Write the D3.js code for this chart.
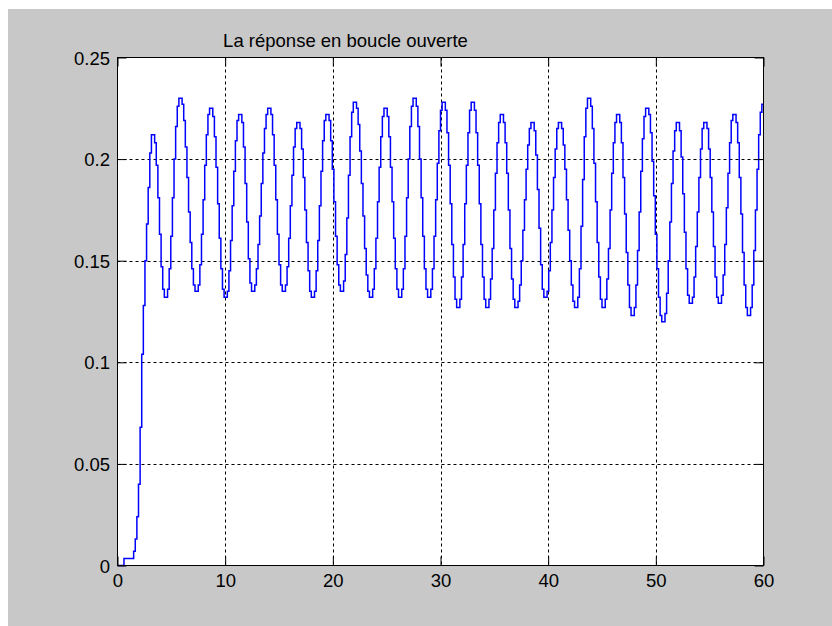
<!DOCTYPE html>
<html>
<head>
<meta charset="utf-8">
<script src="https://cdn.jsdelivr.net/npm/d3@7"></script>
<style>
  html, body { margin: 0; padding: 0; background: #ffffff; }
  svg { display: block; }
  text { font-family: "Liberation Sans", Arial, Helvetica, sans-serif; fill: #000; }
</style>
</head>
<body>
<svg id="fig" width="832" height="626"></svg>
<script>
// Open-loop response, sampled every sampleTime seconds and drawn as a zero-order hold.
const sampleTime = 0.15;
const response = [
  0, 0, 0, 0, 0.0035, 0.0035, 0.0035, 0.0035, 0.0035, 0.0035,
  0.007, 0.013, 0.024, 0.040, 0.068, 0.104, 0.128, 0.150, 0.168, 0.186,
  0.203, 0.212, 0.212, 0.208, 0.197, 0.181, 0.163, 0.147, 0.136, 0.132,
  0.132, 0.136, 0.146, 0.162, 0.181, 0.200, 0.216, 0.226, 0.230, 0.230,
  0.227, 0.219, 0.206, 0.191, 0.174, 0.159, 0.146, 0.138, 0.135, 0.135,
  0.138, 0.148, 0.163, 0.180, 0.197, 0.212, 0.222, 0.225, 0.225, 0.221,
  0.211, 0.196, 0.178, 0.161, 0.146, 0.136, 0.132, 0.132, 0.135, 0.145,
  0.160, 0.177, 0.194, 0.209, 0.219, 0.222, 0.222, 0.218, 0.206, 0.188,
  0.169, 0.151, 0.139, 0.135, 0.135, 0.138, 0.146, 0.158, 0.172, 0.188,
  0.203, 0.215, 0.222, 0.225, 0.225, 0.222, 0.212, 0.197, 0.180, 0.163,
  0.148, 0.138, 0.135, 0.135, 0.138, 0.147, 0.161, 0.177, 0.192, 0.206,
  0.215, 0.218, 0.218, 0.215, 0.205, 0.191, 0.175, 0.159, 0.145, 0.135,
  0.132, 0.132, 0.135, 0.145, 0.160, 0.177, 0.194, 0.209, 0.219, 0.222,
  0.222, 0.219, 0.209, 0.195, 0.179, 0.162, 0.148, 0.138, 0.135, 0.135,
  0.140, 0.153, 0.171, 0.192, 0.211, 0.223, 0.228, 0.228, 0.225, 0.217,
  0.204, 0.188, 0.172, 0.156, 0.143, 0.135, 0.132, 0.132, 0.136, 0.146,
  0.161, 0.179, 0.196, 0.211, 0.221, 0.225, 0.225, 0.221, 0.211, 0.196,
  0.179, 0.161, 0.146, 0.136, 0.132, 0.132, 0.136, 0.146, 0.162, 0.181,
  0.200, 0.216, 0.226, 0.230, 0.230, 0.226, 0.216, 0.200, 0.181, 0.162,
  0.146, 0.136, 0.132, 0.132, 0.136, 0.146, 0.162, 0.180, 0.198, 0.214,
  0.224, 0.228, 0.228, 0.224, 0.213, 0.197, 0.178, 0.158, 0.142, 0.131,
  0.127, 0.127, 0.131, 0.142, 0.158, 0.178, 0.197, 0.213, 0.224, 0.228,
  0.228, 0.224, 0.213, 0.197, 0.178, 0.158, 0.142, 0.131, 0.127, 0.127,
  0.131, 0.141, 0.156, 0.175, 0.193, 0.208, 0.218, 0.222, 0.222, 0.218,
  0.208, 0.193, 0.175, 0.156, 0.141, 0.131, 0.127, 0.127, 0.130, 0.138,
  0.150, 0.165, 0.180, 0.195, 0.207, 0.215, 0.218, 0.218, 0.214, 0.202,
  0.185, 0.166, 0.148, 0.136, 0.132, 0.132, 0.135, 0.145, 0.159, 0.175,
  0.191, 0.205, 0.215, 0.218, 0.218, 0.215, 0.207, 0.195, 0.180, 0.165,
  0.150, 0.138, 0.130, 0.127, 0.127, 0.132, 0.146, 0.167, 0.190, 0.211,
  0.225, 0.230, 0.230, 0.226, 0.215, 0.198, 0.179, 0.159, 0.142, 0.131,
  0.127, 0.127, 0.131, 0.141, 0.156, 0.175, 0.193, 0.208, 0.218, 0.222,
  0.222, 0.218, 0.208, 0.191, 0.173, 0.154, 0.138, 0.127, 0.123, 0.123,
  0.127, 0.138, 0.155, 0.174, 0.194, 0.210, 0.221, 0.225, 0.225, 0.222,
  0.213, 0.199, 0.182, 0.163, 0.146, 0.132, 0.123, 0.120, 0.120, 0.124,
  0.134, 0.150, 0.169, 0.188, 0.204, 0.214, 0.218, 0.218, 0.214, 0.201,
  0.183, 0.164, 0.146, 0.133, 0.129, 0.129, 0.132, 0.142, 0.157, 0.174,
  0.191, 0.205, 0.215, 0.218, 0.218, 0.215, 0.205, 0.191, 0.174, 0.157,
  0.142, 0.132, 0.129, 0.129, 0.133, 0.143, 0.158, 0.176, 0.193, 0.208,
  0.219, 0.222, 0.222, 0.218, 0.208, 0.191, 0.173, 0.154, 0.138, 0.127,
  0.123, 0.123, 0.127, 0.138, 0.155, 0.175, 0.195, 0.212, 0.223, 0.227,
  0.227
];

const xDomain = [0, 60];
const yDomain = [0, 0.25];
const xTicks = [0, 10, 20, 30, 40, 50, 60];
const xTickLabels = ["0", "10", "20", "30", "40", "50", "60"];
const yTicks = [0, 0.05, 0.1, 0.15, 0.2, 0.25];
const yTickLabels = ["0", "0.05", "0.1", "0.15", "0.2", "0.25"];
const title = "La réponse en boucle ouverte";

const svg = d3.select("#fig");
const W = 832, H = 626;
const box = { left: 117.5, right: 763.5, top: 57.5, bottom: 565.5 };
const fontSize = 18.5;
const tickLen = 9;

// figure background
svg.append("rect").attr("x", 0).attr("y", 0).attr("width", W).attr("height", H).attr("fill", "#ffffff");
svg.append("rect").attr("x", 8).attr("y", 9).attr("width", W - 8).attr("height", H - 9).attr("fill", "#c8c8c8");

const x = d3.scaleLinear().domain(xDomain).range([box.left, box.right]);
const y = d3.scaleLinear().domain(yDomain).range([box.bottom, box.top]);

// axes area
svg.append("rect")
  .attr("x", box.left).attr("y", box.top)
  .attr("width", box.right - box.left).attr("height", box.bottom - box.top)
  .attr("fill", "#ffffff");

// dotted grid
const grid = svg.append("g").attr("stroke", "#000").attr("stroke-width", 1).attr("stroke-dasharray", "3,3");
grid.selectAll("line.gx").data(xTicks.slice(1, -1)).join("line")
  .attr("class", "gx")
  .attr("x1", d => Math.round(x(d)) + 0.5).attr("x2", d => Math.round(x(d)) + 0.5)
  .attr("y1", box.top).attr("y2", box.bottom);
grid.selectAll("line.gy").data(yTicks.slice(1, -1)).join("line")
  .attr("class", "gy")
  .attr("y1", d => Math.round(y(d)) + 0.5).attr("y2", d => Math.round(y(d)) + 0.5)
  .attr("x1", box.left).attr("x2", box.right);

// response as a staircase
const line = d3.line()
  .x((d, i) => x(i * sampleTime))
  .y(d => y(d))
  .curve(d3.curveStepAfter);
svg.append("path")
  .datum(response)
  .attr("d", line)
  .attr("fill", "none")
  .attr("stroke", "#0000ff")
  .attr("stroke-width", 1.5)
  .attr("stroke-linejoin", "miter");

// axes box
svg.append("rect")
  .attr("x", box.left).attr("y", box.top)
  .attr("width", box.right - box.left).attr("height", box.bottom - box.top)
  .attr("fill", "none").attr("stroke", "#000").attr("stroke-width", 1);

// ticks pointing inward on all four sides, labels on bottom and left
function styleAxis(g) {
  g.select(".domain").remove();
  g.selectAll(".tick line").attr("stroke", "#000");
  g.selectAll(".tick text").attr("font-size", fontSize).attr("fill", "#000")
    .style("font-family", '"Liberation Sans", Arial, Helvetica, sans-serif');
  g.attr("font-family", null).attr("font-size", null);
}

svg.append("g")
  .attr("transform", `translate(0,${box.bottom})`)
  .call(d3.axisBottom(x).tickValues(xTicks).tickSize(-tickLen).tickPadding(8)
    .tickFormat((d, i) => xTickLabels[i]))
  .call(styleAxis);

svg.append("g")
  .attr("transform", `translate(${box.left},0)`)
  .call(d3.axisLeft(y).tickValues(yTicks).tickSize(-tickLen).tickPadding(7.5)
    .tickFormat((d, i) => yTickLabels[i]))
  .call(styleAxis)
  .selectAll(".tick text").attr("dy", "0.36em");

svg.append("g")
  .attr("transform", `translate(0,${box.top})`)
  .call(d3.axisTop(x).tickValues(xTicks).tickSize(-tickLen).tickFormat(""))
  .call(styleAxis);

svg.append("g")
  .attr("transform", `translate(${box.right},0)`)
  .call(d3.axisRight(y).tickValues(yTicks).tickSize(-tickLen).tickFormat(""))
  .call(styleAxis);

// title
svg.append("text")
  .attr("x", 345.5).attr("y", 47)
  .attr("text-anchor", "middle")
  .attr("font-size", fontSize)
  .text(title);
</script>
</body>
</html>
